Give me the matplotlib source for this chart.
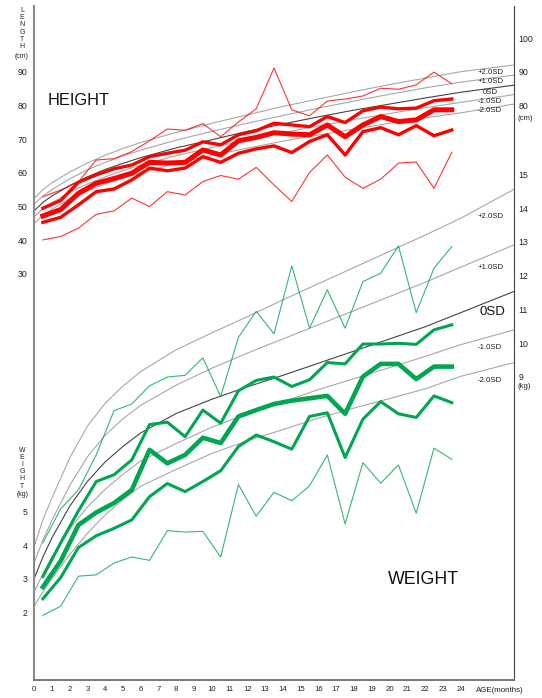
import matplotlib
matplotlib.use("Agg")
import matplotlib.pyplot as plt
import matplotlib.transforms as mtransforms

plt.rcParams['font.family'] = ['Liberation Sans', 'DejaVu Sans']

# age of each measurement (months)
months = [0.5, 1.5, 2.5, 3.5, 4.5, 5.5, 6.5, 7.5, 8.5, 9.5, 10.5, 11.5,
          12.5, 13.5, 14.5, 15.5, 16.5, 17.5, 18.5, 19.5, 20.5, 21.5, 22.5, 23.5]

# height (cm)
height_max = [52.9, 54.9, 57.3, 63.8, 64.2, 66.3, 69.5, 73.0, 72.6, 74.6, 70.7, 75.1,
              79.0, 91.1, 78.7, 76.9, 81.3, 81.9, 82.8, 85.1, 84.8, 86.1, 89.9, 86.4]
height_upper = [49.5, 51.8, 57.2, 59.4, 61.2, 62.3, 64.8, 65.8, 66.7, 69.2, 68.3, 71.3,
                72.5, 74.7, 74.2, 73.7, 76.7, 74.9, 78.4, 79.5, 79.0, 79.2, 81.4, 81.9]
height_mid = [47.2, 49.1, 53.9, 56.9, 58.3, 59.9, 63.1, 62.9, 63.1, 66.8, 65.3, 69.5,
              70.5, 71.9, 71.5, 71.3, 74.2, 70.7, 74.2, 76.7, 75.2, 75.7, 78.7, 78.7]
height_lower = [45.3, 46.8, 50.5, 54.4, 55.2, 57.9, 61.4, 60.6, 61.4, 64.8, 63.1, 65.8,
                67.1, 68.0, 66.0, 69.3, 71.3, 65.3, 72.2, 73.4, 71.3, 74.0, 71.0, 72.7]
height_min = [40.1, 41.1, 43.6, 47.7, 48.7, 52.5, 50.0, 54.4, 53.4, 57.4, 59.2, 58.1,
              61.6, 56.4, 51.5, 60.1, 65.3, 58.7, 55.4, 58.1, 62.9, 63.2, 55.4, 66.1]

# weight (kg)
weight_max = [4.07, 5.08, 5.64, 6.68, 7.99, 8.19, 8.73, 8.99, 9.04, 9.56, 8.41, 10.17,
              10.94, 10.27, 12.29, 10.44, 11.58, 10.44, 11.82, 12.07, 12.88, 10.90, 12.22, 12.86]
weight_upper = [3.07, 4.07, 5.02, 5.89, 6.09, 6.53, 7.58, 7.65, 7.22, 8.01, 7.62, 8.58,
                8.89, 8.99, 8.71, 8.91, 9.42, 9.38, 9.97, 9.97, 9.99, 9.96, 10.39, 10.54]
weight_mid = [2.76, 3.53, 4.60, 4.97, 5.25, 5.64, 6.83, 6.43, 6.68, 7.19, 7.03, 7.82,
              8.01, 8.19, 8.29, 8.36, 8.43, 7.90, 9.00, 9.38, 9.38, 8.93, 9.30, 9.30]
weight_lower = [2.41, 3.04, 3.93, 4.28, 4.50, 4.75, 5.44, 5.83, 5.59, 5.89, 6.21, 6.93,
                7.27, 7.07, 6.85, 7.82, 7.93, 6.60, 7.74, 8.26, 7.90, 7.79, 8.43, 8.23]
weight_min = [1.92, 2.19, 3.08, 3.12, 3.47, 3.65, 3.55, 4.43, 4.39, 4.41, 3.65, 5.80,
              4.86, 5.57, 5.32, 5.76, 6.68, 4.63, 6.45, 5.84, 6.38, 4.95, 6.88, 6.55]

# reference SD curves
ref_x = [0, 0.5, 1, 2, 3, 4, 5, 6, 8, 10, 12, 14, 16, 18, 20, 22, 24, 27]
h_sd = {
    "+2.0SD": [52.4, 55.0, 57.0, 60.2, 62.9, 65.2, 67.2, 69.0, 72.0, 74.7, 77.2, 79.7, 81.9, 84.1, 86.2, 88.1, 90.0, 92.0],
    "+1.0SD": [50.6, 53.1, 55.0, 58.2, 60.9, 63.1, 65.0, 66.7, 69.7, 72.3, 74.7, 77.0, 79.2, 81.3, 83.3, 85.2, 86.9, 89.0],
    "0SD": [48.7, 51.2, 53.1, 56.2, 58.8, 61.0, 62.8, 64.5, 67.4, 69.8, 72.3, 74.5, 76.6, 78.6, 80.4, 82.2, 83.9, 86.0],
    "-1.0SD": [46.9, 49.3, 51.1, 54.2, 56.7, 58.8, 60.6, 62.3, 65.1, 67.5, 69.8, 71.9, 73.9, 75.8, 77.6, 79.3, 80.9, 83.2],
    "-2.0SD": [44.9, 47.4, 49.2, 52.2, 54.6, 56.7, 58.4, 60.0, 62.8, 65.2, 67.3, 69.4, 71.2, 73.0, 74.7, 76.3, 77.8, 80.4],
}
w_sd = {
    "+2.0SD": [3.95, 4.75, 5.39, 6.58, 7.53, 8.21, 8.72, 9.15, 9.80, 10.30, 10.78, 11.28, 11.76, 12.24, 12.72, 13.20, 13.70, 14.56],
    "+1.0SD": [3.47, 4.15, 4.73, 5.76, 6.62, 7.26, 7.75, 8.15, 8.75, 9.25, 9.70, 10.12, 10.54, 10.96, 11.38, 11.80, 12.25, 12.91],
    "0SD": [3.00, 3.65, 4.21, 5.15, 5.89, 6.47, 6.93, 7.33, 7.91, 8.33, 8.70, 9.04, 9.40, 9.76, 10.12, 10.48, 10.90, 11.53],
    "-1.0SD": [2.60, 3.15, 3.65, 4.48, 5.13, 5.66, 6.10, 6.50, 7.02, 7.50, 7.90, 8.25, 8.62, 8.94, 9.27, 9.60, 9.95, 10.39],
    "-2.0SD": [2.18, 2.62, 3.00, 3.72, 4.35, 4.90, 5.35, 5.75, 6.25, 6.72, 7.10, 7.43, 7.77, 8.07, 8.35, 8.64, 9.01, 9.42],
}

# label text
h_left_ticks = [30, 40, 50, 60, 70, 80, 90]
w_left_ticks = [2, 3, 4, 5]
h_right_ticks = [80, 90, 100]
w_right_ticks = [9, 10, 11, 12, 13, 14, 15]
age_ticks = list(range(0, 25))


def h2y(h):
    # height shares the axis with weight: 10 cm per kg, shifted
    return (h + 90.5) / 10.0


red = "#ff0000"
green = "#00a651"

fig = plt.figure(figsize=(5.42, 6.98), dpi=100)
ax = fig.add_axes([34 / 542, 18 / 698, 480 / 542, 674 / 698])
ax.set_xlim(0, 27)
ax.set_ylim(0, 20)

# SD reference curves
for name, vals in h_sd.items():
    col = "#444444" if name == "0SD" else "#a8a8a8"
    ax.plot(ref_x, [h2y(v) for v in vals], color=col, lw=0.8, zorder=1)
for name, vals in w_sd.items():
    col = "#444444" if name == "0SD" else "#a8a8a8"
    ax.plot(ref_x, vals, color=col, lw=0.8, zorder=1)

# height lines
ax.plot(months, [h2y(v) for v in height_max], color=red, lw=0.8, alpha=0.8, zorder=3)
ax.plot(months, [h2y(v) for v in height_min], color=red, lw=0.8, alpha=0.8, zorder=3)
ax.plot(months, [h2y(v) for v in height_upper], color=red, lw=2.4, zorder=3)
ax.plot(months, [h2y(v) for v in height_lower], color=red, lw=2.4, zorder=3)
ax.plot(months, [h2y(v) for v in height_mid], color=red, lw=3.6, zorder=3)

# weight lines
ax.plot(months, weight_max, color=green, lw=0.8, alpha=0.8, zorder=3)
ax.plot(months, weight_min, color=green, lw=0.8, alpha=0.8, zorder=3)
ax.plot(months, weight_upper, color=green, lw=2.2, zorder=3)
ax.plot(months, weight_lower, color=green, lw=2.2, zorder=3)
ax.plot(months, weight_mid, color=green, lw=3.3, zorder=3)

# SD labels
sd_h_pos = {"+2.0SD": 89.9, "+1.0SD": 87.0, "0SD": 83.9, "-1.0SD": 81.3, "-2.0SD": 78.5}
for name, hy in sd_h_pos.items():
    xx = 25.67 if name == "0SD" else 24.97
    ha = "center" if name == "0SD" else "left"
    ax.text(xx, h2y(hy), name, fontsize=5.6, color="#222222", ha=ha, va="center")

sd_w_pos = {"+2.0SD": 13.75, "+1.0SD": 12.23, "-1.0SD": 9.88, "-2.0SD": 8.88}
for name, wy in sd_w_pos.items():
    ax.text(24.97, wy, name, fontsize=5.6, color="#222222", ha="left", va="center")
ax.text(25.8, 10.92, "0SD", fontsize=9.5, color="#111111", ha="center", va="center")

ax.text(2.53, 17.2, "HEIGHT", fontsize=11.8, color="#111111", ha="center", va="center")
ax.text(21.93, 2.97, "WEIGHT", fontsize=12.8, color="#111111", ha="center", va="center")

# axes styling
ax.spines["top"].set_visible(False)
ax.spines["left"].set_color("#8a8a8a")
ax.spines["left"].set_linewidth(1.5)
ax.spines["bottom"].set_color("#777777")
ax.spines["bottom"].set_linewidth(1.4)
ax.spines["right"].set_color("#444444")
ax.spines["right"].set_linewidth(0.8)

ax.set_xticks(age_ticks)
ax.set_xticklabels([str(a) for a in age_ticks])
ax.tick_params(axis="x", length=0, pad=4, labelsize=5.6, labelcolor="#222222")

ax.set_yticks([h2y(h) for h in h_left_ticks] + w_left_ticks)
ax.set_yticklabels([str(h) for h in h_left_ticks] + [str(w) for w in w_left_ticks])
ax.tick_params(axis="y", length=0, pad=4.5, labelsize=6.3, labelcolor="#222222")

ax2 = ax.twinx()
ax2.set_ylim(0, 20)
ax2.set_yticks([h2y(h) for h in h_right_ticks] + w_right_ticks)
ax2.set_yticklabels([str(h) for h in h_right_ticks] + [str(w) for w in w_right_ticks])
ax2.tick_params(axis="y", length=0, pad=3, labelsize=6.3, labelcolor="#222222")
for s in ax2.spines.values():
    s.set_visible(False)

trans = mtransforms.blended_transform_factory(ax.transAxes, ax.transData)
ax.text(1.008, 16.67, "(cm)", transform=trans, fontsize=5.6, color="#222222", ha="left", va="center")
ax.text(1.008, 8.71, "(kg)", transform=trans, fontsize=5.6, color="#222222", ha="left", va="center")

# stacked axis titles on the left
for i, ch in enumerate("LENGTH"):
    fig.text(22 / 542, 1 - (10 + i * 7.4) / 698, ch, fontsize=5, color="#222222", ha="center", va="center")
fig.text(22 / 542, 1 - 56 / 698, "(cm)", fontsize=5, color="#222222", ha="center", va="center")
for i, ch in enumerate("WEIGHT"):
    fig.text(22 / 542, 1 - (450 + i * 7.2) / 698, ch, fontsize=5, color="#222222", ha="center", va="center")
fig.text(23 / 542, 1 - 494.5 / 698, "(kg)", fontsize=5, color="#222222", ha="center", va="center")

fig.text(499.5 / 542, 1 - 690 / 698, "AGE(months)", fontsize=5.7, color="#222222", ha="center", va="center")

fig.savefig("out.png", dpi=100)
